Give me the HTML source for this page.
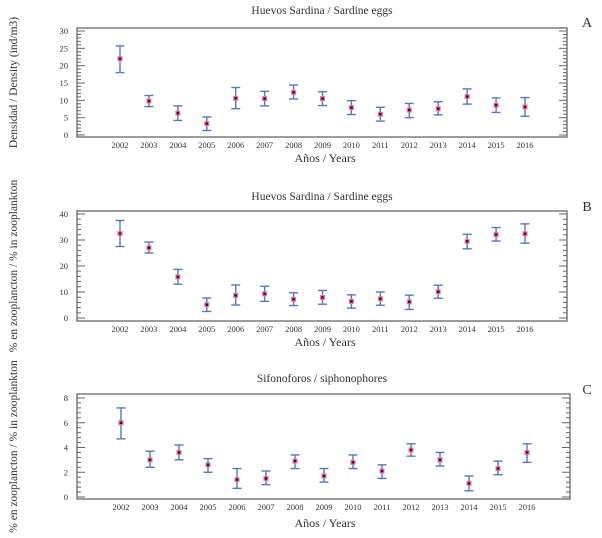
<!DOCTYPE html>
<html><head><meta charset="utf-8"><style>
html,body{margin:0;padding:0;background:#fff;}
svg{display:block;font-family:"Liberation Serif",serif;}
</style></head><body>
<svg id="chart" width="602" height="538"></svg>
<script>
const years=["2002","2003","2004","2005","2006","2007","2008","2009","2010","2011","2012","2013","2014","2015","2016"];
const meanA=[22,9.8,6.3,3.3,10.6,10.5,12.3,10.5,7.9,6.0,7.2,7.6,11.1,8.6,8.1];
const loA=[18,8.2,4.2,1.3,7.6,8.4,10.4,8.5,5.9,4,5,5.8,8.9,6.5,5.4];
const hiA=[25.7,11.4,8.4,5.2,13.7,12.6,14.4,12.5,9.9,8,9.1,9.6,13.3,10.7,10.8];
const ticksA=[0,5,10,15,20,25,30];
const meanB=[32.5,27,15.8,5.1,8.7,9.3,7.2,7.9,6.4,7.4,6.2,10.1,29.5,32.1,32.4];
const loB=[27.5,25,13,2.5,5,6.4,4.8,5.3,3.8,4.9,3.3,7.6,26.6,29.6,28.8];
const hiB=[37.5,29.2,18.7,7.7,12.7,12.2,9.7,10.6,8.9,10,8.8,12.6,32.2,34.8,36.2];
const ticksB=[0,10,20,30,40];
const meanC=[6.0,3.0,3.6,2.6,1.4,1.5,2.9,1.7,2.8,2.1,3.8,3.0,1.1,2.3,3.6];
const loC=[4.7,2.4,3,2,0.7,1,2.3,1.2,2.3,1.5,3.3,2.5,0.5,1.8,2.8];
const hiC=[7.2,3.7,4.2,3.1,2.3,2.1,3.4,2.3,3.4,2.6,4.3,3.6,1.7,2.9,4.3];
const ticksC=[0,2,4,6,8];

const svg=document.getElementById('chart');
const NS='http://www.w3.org/2000/svg';
function mk(tag,attrs,parent){const e=document.createElementNS(NS,tag);for(const k in attrs)e.setAttribute(k,attrs[k]);(parent||svg).appendChild(e);return e;}

const panels=[
 {id:'a',letter:'A',title:'Huevos Sardina / Sardine eggs',ylab:'Densidad / Density (ind/m3)',mean:meanA,lo:loA,hi:hiA,ticks:ticksA,minor:5,
  box:[77,28,567,137],y0:135,yTop:31,x0:120,x1:525,titleY:14,xlabY:162,letterY:27,ylabX:17},
 {id:'b',letter:'B',title:'Huevos Sardina / Sardine eggs',ylab:'% en zooplancton / % in zooplankton',mean:meanB,lo:loB,hi:hiB,ticks:ticksB,minor:5,
  box:[77,211,567,321],y0:318,yTop:214,x0:120,x1:525,titleY:200,xlabY:346,letterY:211,ylabX:17},
 {id:'c',letter:'C',title:'Sifonoforos / siphonophores',ylab:'% en zooplancton / % in zooplankton',mean:meanC,lo:loC,hi:hiC,ticks:ticksC,minor:5,
  box:[77,394,570,499],y0:497,yTop:398,x0:121,x1:527,titleY:382,xlabY:527,letterY:394,ylabX:17}
];

panels.forEach(p=>{
  const g=mk('g',{});
  
  
  const tmin=p.ticks[0],tmax=p.ticks[p.ticks.length-1];
  const ys=v=>p.y0-(v-tmin)/(tmax-tmin)*(p.y0-p.yTop);
  const xs=i=>p.x0+i*(p.x1-p.x0)/(years.length-1);
  const [l,t,r,b]=p.box;
  const box=mk('rect',{x:l,y:t,width:r-l,height:b-t,fill:'none',stroke:'#666','stroke-width':1.3},g);
  
  
  const title=mk('text',{x:322,y:p.titleY,'text-anchor':'middle','font-size':11.5,fill:'#333'},g);
  title.textContent=p.title;
  
  
  const let_=mk('text',{x:587,y:p.letterY,'text-anchor':'middle','font-size':14,fill:'#333'},g);
  let_.textContent=p.letter;
  
  
  const xl=mk('text',{x:325,y:p.xlabY,'text-anchor':'middle','font-size':12,fill:'#333'},g);
  xl.textContent='Años / Years';
  
  
  const yc=(t+b)/2;
  const yl=mk('text',{x:p.ylabX,y:yc,'text-anchor':'middle','font-size':11.5,fill:'#333',transform:'rotate(-90 '+p.ylabX+' '+yc+')'},g);
  yl.textContent=p.ylab;
  
  
  // ticks
  const step=p.ticks[1]-p.ticks[0];
  p.ticks.forEach((tv,k)=>{
    const y=ys(tv);
    mk('line',{x1:l,x2:l+8,y1:y,y2:y,stroke:'#666','stroke-width':1},g);
    mk('line',{x1:r,x2:r-8,y1:y,y2:y,stroke:'#666','stroke-width':1},g);
    const tl=mk('text',{x:l-9,y:y+3,'text-anchor':'end','font-size':8.5,fill:'#333'},g);
    tl.textContent=tv;
    
    
    if(k<p.ticks.length-1){
      for(let m=1;m<p.minor;m++){
        const ym=ys(tv+step*m/p.minor);
        mk('line',{x1:l,x2:l+4,y1:ym,y2:ym,stroke:'#666','stroke-width':1},g);
        mk('line',{x1:r,x2:r-4,y1:ym,y2:ym,stroke:'#666','stroke-width':1},g);
      }
    }
  });
  years.forEach((yr,i)=>{
    const x=xs(i);
    const xt=mk('text',{x:x,y:b+11,'text-anchor':'middle','font-size':8.5,fill:'#333'},g);
    xt.textContent=yr;
    
    
    const eg=mk('g',{},g);
    
    
    const yh=ys(p.hi[i]),ylo=ys(p.lo[i]),ym=ys(p.mean[i]);
    mk('line',{x1:x,x2:x,y1:yh,y2:ylo,stroke:'#5577c4','stroke-width':1.4},eg);
    mk('line',{x1:x-4.5,x2:x+4.5,y1:yh,y2:yh,stroke:'#5577c4','stroke-width':1.4},eg);
    mk('line',{x1:x-4.5,x2:x+4.5,y1:ylo,y2:ylo,stroke:'#5577c4','stroke-width':1.4},eg);
    const pt=mk('rect',{x:x-2.5,y:ym-2.5,width:5,height:5,fill:'#e07a9a'},g);
    
    
    mk('rect',{x:x-1.3,y:ym-1.3,width:2.6,height:2.6,fill:'#6a0030'},g);
  });
});
</script>
</body></html>
